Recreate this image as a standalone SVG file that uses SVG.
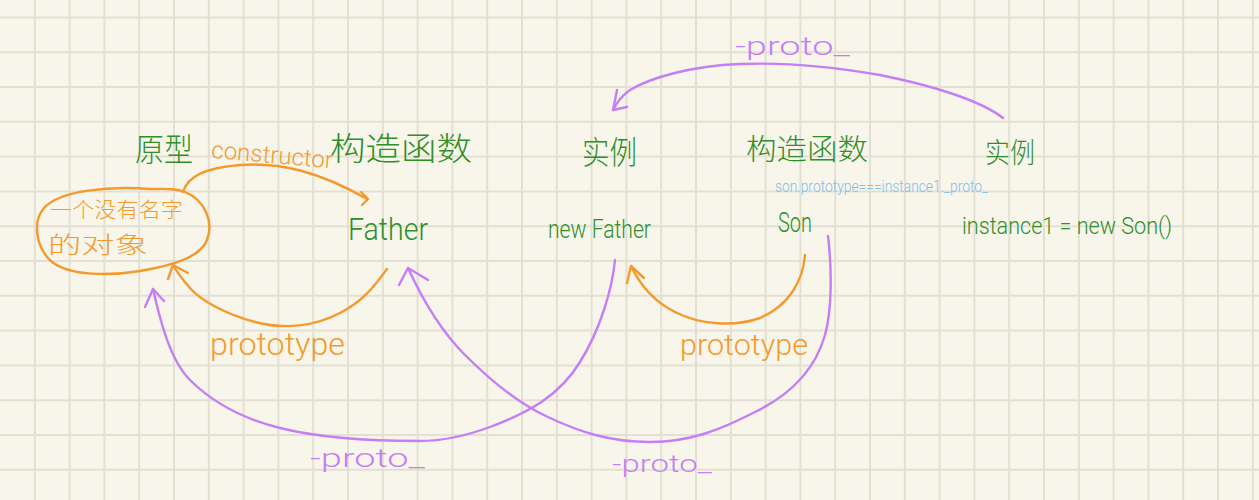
<svg xmlns="http://www.w3.org/2000/svg" width="1259" height="500" viewBox="0 0 1259 500">
<defs>
<style>
.bg{fill:#f8f6ea}
.grid{stroke:#e3e0d3;stroke-width:2;fill:none}
.t{font-family:Roboto,"Liberation Sans","Noto Sans CJK SC",sans-serif;font-weight:300}
.c{font-family:"Noto Sans CJK SC",sans-serif;font-weight:300}
.g{fill:#2f8f2a}
.o{fill:#f49a2c}
.p{fill:#c57ef5}
.b{fill:#7cc0f2}
.eo{stroke:#f49a2c;stroke-width:2.4;fill:none;stroke-linecap:round;stroke-linejoin:round}
.ep{stroke:#c57ef5;stroke-width:2.4;fill:none;stroke-linecap:round;stroke-linejoin:round}
</style>
</defs>
<rect class="bg" x="0" y="0" width="1259" height="500"/>
<path class="grid" d="M34.8 0V500M69.6 0V500M104.4 0V500M139.2 0V500M174 0V500M208.8 0V500M243.6 0V500M278.4 0V500M313.2 0V500M348 0V500M382.8 0V500M417.6 0V500M452.4 0V500M487.2 0V500M522 0V500M556.8 0V500M591.6 0V500M626.4 0V500M661.2 0V500M696 0V500M730.8 0V500M765.6 0V500M800.4 0V500M835.2 0V500M870 0V500M904.8 0V500M939.6 0V500M974.4 0V500M1009.2 0V500M1044 0V500M1078.8 0V500M1113.6 0V500M1148.4 0V500M1183.2 0V500M1218 0V500M1252.8 0V500M0 17.4H1259M0 52.2H1259M0 87H1259M0 121.8H1259M0 156.6H1259M0 191.4H1259M0 226.2H1259M0 261H1259M0 295.8H1259M0 330.6H1259M0 365.4H1259M0 400.2H1259M0 435H1259M0 469.8H1259"/>

<g id="headers">
<text class="c g" x="135" y="161" font-size="32" textLength="58" lengthAdjust="spacingAndGlyphs">原型</text>
<text class="c g" x="330" y="160" font-size="32" textLength="142" lengthAdjust="spacingAndGlyphs">构造函数</text>
<text class="c g" x="582" y="164" font-size="32" textLength="55" lengthAdjust="spacingAndGlyphs">实例</text>
<text class="c g" x="746" y="160" font-size="29" textLength="122" lengthAdjust="spacingAndGlyphs">构造函数</text>
<text class="c g" x="985" y="163" font-size="28" textLength="50" lengthAdjust="spacingAndGlyphs">实例</text>
</g>

<g id="node-prototype-object">
<path class="eo" d="M150,189 C110,186 60,190 44,208 C32,222 36,248 52,262 C70,276 110,276 140,271 C170,266 200,258 207,240 C214,222 205,200 185,192 C175,188 165,189 150,189 Z"/>
<text class="c o" x="50" y="217" font-size="21" textLength="133" lengthAdjust="spacingAndGlyphs">一个没有名字</text>
<text class="c o" x="48" y="253" font-size="23" textLength="100" lengthAdjust="spacingAndGlyphs">的对象</text>
</g>

<g id="node-father">
<text class="t g" x="348" y="240" font-size="32" textLength="80" lengthAdjust="spacingAndGlyphs">Father</text>
</g>

<g id="node-new-father">
<text class="t g" x="548" y="238" font-size="25" textLength="103" lengthAdjust="spacingAndGlyphs">new Father</text>
</g>

<g id="node-son">
<text class="t g" x="778" y="232" font-size="28" textLength="34" lengthAdjust="spacingAndGlyphs">Son</text>
<text class="t b" x="775" y="192" font-size="16" textLength="213" lengthAdjust="spacingAndGlyphs">son.prototype===instance1._proto_</text>
</g>

<g id="node-instance1">
<text class="t g" x="962" y="234" font-size="24" textLength="210" lengthAdjust="spacingAndGlyphs">instance1 = new Son()</text>
</g>

<g id="connectors">
<path class="eo" d="M183,192 C188,176 205,168 240,165 C280,162 320,172 367,199"/>
<path class="eo" d="M361,192 L368,199 L362,205"/>
<path class="eo" d="M387,269 C375,285 365,300 340,313 C315,326 285,330 255,322 C225,314 200,300 190,288 C182,279 177,272 173,265"/>
<path class="eo" d="M168,279 L173,265 L188,273"/>
<path class="ep" d="M615,260 C612,290 600,330 580,362 C560,395 530,412 490,427 C460,438 440,441 420,441 C370,441 320,438 280,428 C240,418 210,400 190,380 C170,360 160,320 153,289"/>
<path class="ep" d="M145,307 L153,289 L164,301"/>
<path class="ep" d="M828,236 C832,270 832,310 825,335 C815,370 790,395 755,412 C720,430 690,442 650,442 C610,442 580,432 550,418 C520,405 490,380 465,355 C445,335 425,305 408,268"/>
<path class="ep" d="M399,285 L408,268 L428,280"/>
<path class="eo" d="M805,255 C803,280 790,305 760,318 C735,327 700,325 675,312 C655,302 640,285 631,266"/>
<path class="eo" d="M627,283 L631,266 L644,278"/>
<path class="ep" d="M1003,118 C980,100 930,85 880,75 C840,68 790,62 740,64 C690,66 650,78 630,90 C620,97 616,104 613,110"/>
<path class="ep" d="M617,90 L613,110 L627,107"/>
<text class="t o" x="211" y="163" font-size="24" textLength="122" lengthAdjust="spacingAndGlyphs" transform="rotate(5 272 158)">constructor</text>
<text class="t o" x="210" y="355" font-size="32" textLength="135" lengthAdjust="spacingAndGlyphs">prototype</text>
<text class="t o" x="680" y="355" font-size="30" textLength="128" lengthAdjust="spacingAndGlyphs">prototype</text>
<text class="t p" x="735" y="55" font-size="26" textLength="115" lengthAdjust="spacingAndGlyphs">-proto_</text>
<text class="t p" x="310" y="467" font-size="26" textLength="115" lengthAdjust="spacingAndGlyphs">-proto_</text>
<text class="t p" x="612" y="472" font-size="24" textLength="100" lengthAdjust="spacingAndGlyphs">-proto_</text>
</g>
</svg>
